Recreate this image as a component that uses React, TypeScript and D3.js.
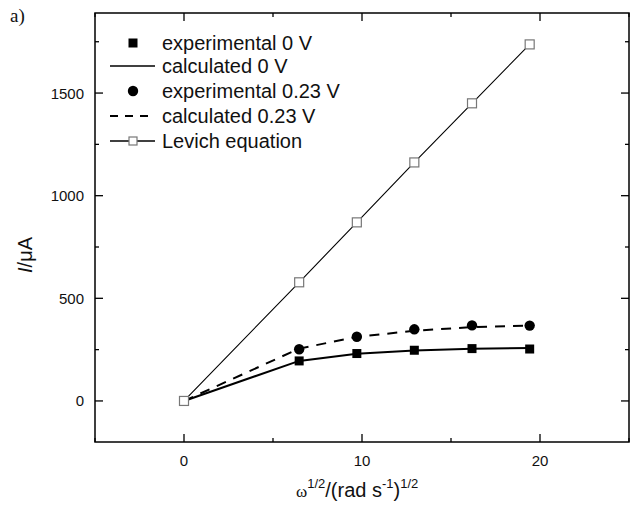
import React from "react";
import * as d3 from "d3";

const xVals = [0, 6.47, 9.71, 12.94, 16.18, 19.42];
const expZero = [null, 195, 231, 247, 255, 253];
const calcZero = [0, 195, 230, 246, 254, 258];
const expHigh = [null, 252, 313, 349, 368, 367];
const calcHigh = [0, 255, 312, 342, 360, 367];
const levich = [0, 578, 870, 1162, 1450, 1737];
const xTicks = [0, 10, 20];
const yTicks = [0, 500, 1000, 1500];
const legendLabels = [
  "experimental 0 V",
  "calculated 0 V",
  "experimental 0.23 V",
  "calculated 0.23 V",
  "Levich equation",
];

const W = 632;
const H = 506;
const L = 95, R = 629, T = 13, B = 442;
const sans = "'Liberation Sans', Arial, sans-serif";
const serif = "'Liberation Serif', 'Times New Roman', serif";

export default function App() {
  const x = d3.scaleLinear().domain([-5, 25]).range([L, R]);
  const y = d3.scaleLinear().domain([-200, 1890]).range([B, T]);

  const pts = (vals: (number | null)[]) =>
    xVals.map((xv, i) => [xv, vals[i]] as [number, number | null]).filter((d) => d[1] !== null) as [number, number][];

  const line = d3
    .line<[number, number]>()
    .x((d) => x(d[0]))
    .y((d) => y(d[1]));

  const xMinor = d3.range(-5, 25.01, 5);
  const yMinor = d3.range(-0, 1890, 250);

  const legendRows = [43, 66, 91, 116, 141];
  const lx0 = 110, lx1 = 155, lmx = 133, ltx = 162;

  return (
    <svg width={W} height={H} style={{ position: "absolute", left: 0, top: 0, background: "#fff" }}>
      <rect x={0} y={0} width={W} height={H} fill="#fff" />
      {/* series lines */}
      <path d={line(pts(levich)) || ""} fill="none" stroke="#000" strokeWidth={1.1} />
      <path d={line(pts(calcZero)) || ""} fill="none" stroke="#000" strokeWidth={2} />
      <path d={line(pts(calcHigh)) || ""} fill="none" stroke="#000" strokeWidth={2} strokeDasharray="10,8" />
      {/* markers */}
      {pts(expZero).map((d, i) => (
        <rect key={"ez" + i} x={x(d[0]) - 4.5} y={y(d[1]) - 4.5} width={9} height={9} fill="#000" />
      ))}
      {pts(expHigh).map((d, i) => (
        <circle key={"eh" + i} cx={x(d[0])} cy={y(d[1])} r={5.2} fill="#000" />
      ))}
      {pts(levich).map((d, i) => (
        <rect key={"lv" + i} x={x(d[0]) - 4.5} y={y(d[1]) - 4.5} width={9} height={9} fill="#fff" stroke="#777" strokeWidth={1.2} />
      ))}
      {/* frame */}
      <rect x={L} y={T} width={R - L} height={B - T} fill="none" stroke="#000" strokeWidth={1.5} />
      {/* x ticks */}
      {xMinor.map((v) => {
        const major = Math.abs(v % 10) < 1e-6;
        const len = major ? 8 : 4;
        return (
          <g key={"xt" + v}>
            <line x1={x(v)} x2={x(v)} y1={B} y2={B - len} stroke="#000" strokeWidth={1.3} />
            <line x1={x(v)} x2={x(v)} y1={T} y2={T + len} stroke="#000" strokeWidth={1.3} />
          </g>
        );
      })}
      {yMinor.map((v) => {
        const major = v % 500 === 0;
        const len = major ? 8 : 4;
        return (
          <g key={"yt" + v}>
            <line x1={L} x2={L + len} y1={y(v)} y2={y(v)} stroke="#000" strokeWidth={1.3} />
            <line x1={R} x2={R - len} y1={y(v)} y2={y(v)} stroke="#000" strokeWidth={1.3} />
          </g>
        );
      })}
      {xTicks.map((v) => (
        <text key={"xl" + v} x={x(v)} y={466} textAnchor="middle" fontFamily={sans} fontSize={15} fill="#111">
          {v}
        </text>
      ))}
      {yTicks.map((v) => (
        <text key={"yl" + v} x={84} y={y(v) + 5.5} textAnchor="end" fontFamily={sans} fontSize={15} fill="#111">
          {v}
        </text>
      ))}
      {/* axis titles */}
      <text x={0} y={0} transform="translate(32,255) rotate(-90)" textAnchor="middle" fontFamily={sans} fontSize={20} fill="#111">
        <tspan fontStyle="italic">I</tspan>/μA
      </text>
      <text x={296} y={497} fontFamily={sans} fontSize={20} fill="#111">
        <tspan fontFamily={serif} fontSize={17}>ω</tspan>
        <tspan fontSize={13} dy={-9}>1/2</tspan>
        <tspan dy={9}>/(rad s</tspan>
        <tspan fontSize={13} dy={-9}>-1</tspan>
        <tspan dy={9}>)</tspan>
        <tspan fontSize={13} dy={-9}>1/2</tspan>
      </text>
      <text x={10} y={22} fontFamily={serif} fontSize={19} fill="#111">a)</text>
      {/* legend */}
      <rect x={lmx - 4.5} y={legendRows[0] - 4.5} width={9} height={9} fill="#000" />
      <line x1={lx0} x2={lx1} y1={legendRows[1]} y2={legendRows[1]} stroke="#000" strokeWidth={1.6} />
      <circle cx={lmx} cy={legendRows[2]} r={5.2} fill="#000" />
      <line x1={lx0} x2={lx1} y1={legendRows[3]} y2={legendRows[3]} stroke="#000" strokeWidth={1.8} strokeDasharray="8,7" />
      <line x1={lx0} x2={lx1} y1={legendRows[4]} y2={legendRows[4]} stroke="#000" strokeWidth={1.3} />
      <rect x={lmx - 4} y={legendRows[4] - 4} width={8} height={8} fill="#fff" stroke="#777" strokeWidth={1.2} />
      {legendLabels.map((t, i) => (
        <text key={"lg" + i} x={ltx} y={legendRows[i] + 7} fontFamily={sans} fontSize={20} fill="#111">
          {t}
        </text>
      ))}
    </svg>
  );
}
